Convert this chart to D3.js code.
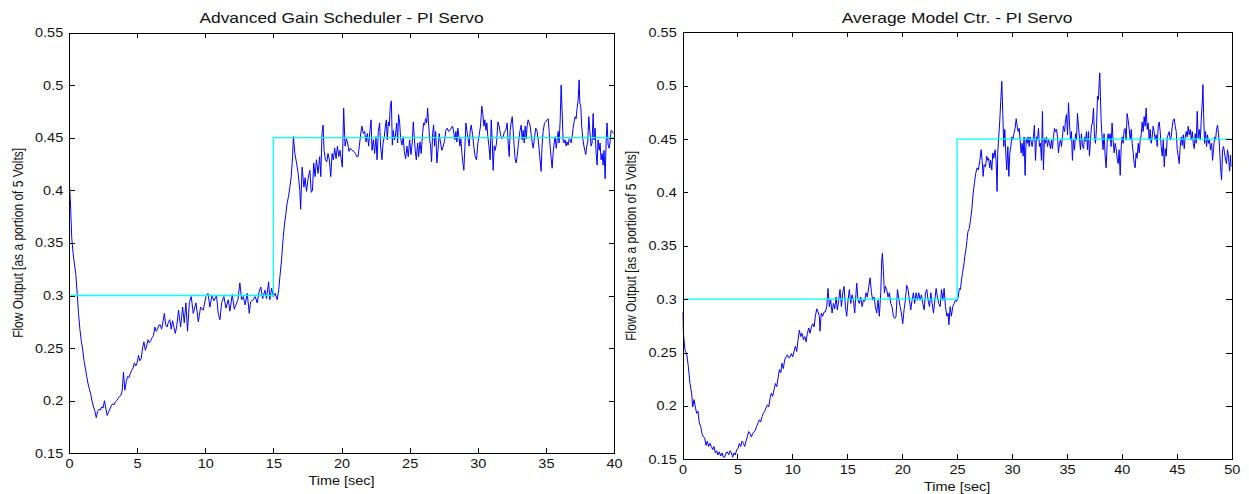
<!DOCTYPE html>
<html>
<head>
<meta charset="utf-8">
<script src="https://cdn.jsdelivr.net/npm/d3@7"></script>
<style>
    body { margin: 0; background: #fff; }
    svg text { font-family: "Liberation Sans", Arial, sans-serif; fill: #111; }
</style>
</head>
<body>
<svg id="chart" width="1249" height="494"></svg>
<script>
// reference (setpoint) steps
const schedRefTime = [0, 15, 15, 40];
const schedRef = [0.3, 0.3, 0.45, 0.45];
const avgRefTime = [0, 25, 25, 50];
const avgRef = [0.3, 0.3, 0.45, 0.45];

const schedFlow = [[0,0.412],[0.1,0.39],[0.2,0.355],[0.3,0.34],[0.4,0.33],[0.5,0.32],[0.6,0.302],[0.7,0.283],[0.8,0.268],[0.9,0.257],[1,0.249],[1.1,0.238],[1.2,0.231],[1.3,0.223],[1.4,0.216],[1.5,0.211],[1.6,0.206],[1.7,0.199],[1.8,0.194],[1.9,0.19],[2,0.184],[2.1,0.19],[2.2,0.192],[2.3,0.191],[2.4,0.194],[2.5,0.193],[2.6,0.2],[2.7,0.193],[2.8,0.186],[2.9,0.189],[3,0.192],[3.1,0.195],[3.2,0.197],[3.3,0.196],[3.4,0.199],[3.5,0.2],[3.6,0.202],[3.7,0.204],[3.8,0.205],[3.9,0.209],[4,0.227],[4.1,0.21],[4.2,0.218],[4.3,0.223],[4.4,0.222],[4.5,0.226],[4.6,0.229],[4.7,0.231],[4.8,0.236],[4.9,0.233],[5,0.236],[5.1,0.243],[5.2,0.238],[5.3,0.24],[5.4,0.25],[5.5,0.256],[5.6,0.248],[5.7,0.252],[5.8,0.258],[5.9,0.255],[6,0.257],[6.1,0.26],[6.2,0.262],[6.3,0.27],[6.4,0.266],[6.5,0.268],[6.6,0.272],[6.7,0.272],[6.8,0.268],[6.9,0.275],[7,0.283],[7.1,0.272],[7.2,0.27],[7.3,0.275],[7.4,0.277],[7.5,0.268],[7.6,0.276],[7.7,0.27],[7.8,0.264],[7.9,0.27],
    [8.04,0.286],[8.19,0.27],[8.34,0.289],[8.46,0.274],[8.58,0.293],[8.7,0.266],[8.83,0.293],[8.97,0.299],[9.12,0.283],[9.32,0.293],[9.49,0.275],[9.66,0.289],[9.85,0.286],[10.05,0.299],[10.2,0.302],[10.34,0.289],[10.49,0.3],[10.64,0.295],[10.83,0.3],[10.95,0.283],[11.08,0.277],[11.2,0.293],[11.37,0.299],[11.52,0.288],[11.69,0.296],[11.81,0.285],[11.98,0.301],[12.13,0.287],[12.25,0.291],[12.4,0.296],[12.54,0.312],[12.67,0.296],[12.79,0.299],[12.93,0.291],[13.08,0.302],[13.23,0.283],[13.33,0.294],[13.52,0.296],[13.67,0.299],[13.81,0.293],[13.96,0.304],[14.08,0.308],[14.21,0.297],[14.38,0.305],[14.5,0.297],[14.65,0.313],[14.74,0.296],[14.87,0.307],[14.99,0.299],[15.13,0.302],[15.28,0.296],[15.4,0.306],[15.48,0.318],[15.6,0.334],[15.72,0.355],[15.82,0.368],[15.92,0.378],[16.01,0.388],[16.11,0.394],[16.21,0.403],[16.31,0.413],[16.41,0.432],[16.47,0.451],[16.58,0.435],[16.7,0.426],[16.82,0.416],[16.94,0.4],[17,0.382],[17.11,0.422],[17.24,0.403],[17.33,0.412],[17.43,0.399],[17.55,0.411],[17.68,0.419],[17.78,0.398],[17.87,0.4],[17.96,0.426],
    [18.06,0.413],[18.16,0.429],[18.28,0.416],[18.4,0.432],[18.48,0.413],[18.57,0.454],[18.65,0.462],[18.72,0.438],[18.82,0.429],[18.92,0.427],[19.01,0.435],[19.11,0.429],[19.21,0.413],[19.31,0.435],[19.4,0.429],[19.5,0.44],[19.6,0.43],[19.7,0.442],[19.8,0.432],[19.89,0.438],[19.99,0.429],[20.06,0.422],[20.16,0.478],[20.26,0.442],[20.36,0.449],[20.45,0.445],[20.55,0.437],[20.65,0.44],[20.77,0.438],[20.9,0.437],[21.02,0.435],[21.11,0.432],[21.21,0.432],[21.31,0.442],[21.41,0.454],[21.5,0.461],[21.6,0.454],[21.7,0.456],[21.8,0.446],[21.9,0.454],[21.99,0.442],[22.09,0.457],[22.17,0.467],[22.24,0.438],[22.34,0.448],[22.43,0.435],[22.53,0.451],[22.61,0.429],[22.7,0.456],[22.8,0.464],[22.87,0.442],[22.97,0.429],[23.05,0.445],[23.14,0.451],[23.22,0.461],[23.29,0.467],[23.36,0.448],[23.44,0.465],[23.51,0.461],[23.58,0.48],[23.66,0.485],[23.73,0.443],[23.8,0.457],[23.88,0.448],[23.95,0.451],[24.05,0.464],[24.12,0.445],[24.19,0.472],[24.27,0.464],[24.34,0.449],[24.44,0.443],[24.53,0.451],[24.61,0.437],[24.71,0.43],[24.8,0.442],[24.9,0.432],[25,0.448],[25.1,0.434],[25.19,0.445],[25.27,0.465],[25.34,0.451],[25.41,0.438],[25.49,0.429],[25.59,0.445],[25.66,0.432],[25.76,0.446],[25.85,0.435],[25.95,0.454],[26.03,0.464],[26.1,0.462],[26.17,0.468],[26.25,0.464],[26.32,0.478],[26.39,0.464],[26.47,0.448],[26.54,0.442],[26.61,0.427],[26.69,0.454],[26.76,0.462],[26.83,0.442],[26.91,0.456],[27,0.426],[27.08,0.438],[27.17,0.454],[27.27,0.445],[27.37,0.438],[27.47,0.442],[27.57,0.448],[27.66,0.457],[27.76,0.459],[27.86,0.456],[27.96,0.457],[28.05,0.459],[28.15,0.461],[28.25,0.454],[28.32,0.448],[28.4,0.456],[28.47,0.446],[28.54,0.459],[28.62,0.451],[28.69,0.442],[28.76,0.449],[28.84,0.435],[28.91,0.426],[28.98,0.419],[29.06,0.442],[29.13,0.464],[29.23,0.454],[29.3,0.448],[29.37,0.442],[29.45,0.457],[29.52,0.462],[29.62,0.453],[29.71,0.442],[29.81,0.432],[29.91,0.429],
    [30.01,0.445],[30.11,0.453],[30.2,0.461],[30.3,0.48],[30.38,0.472],[30.45,0.461],[30.52,0.467],[30.6,0.457],[30.67,0.464],[30.74,0.451],[30.82,0.442],[30.91,0.429],[30.99,0.467],[31.06,0.448],[31.13,0.419],[31.21,0.442],[31.28,0.438],[31.38,0.445],[31.48,0.465],[31.57,0.461],[31.67,0.453],[31.77,0.449],[31.87,0.451],[31.96,0.456],[32.06,0.457],[32.16,0.464],[32.23,0.445],[32.31,0.432],[32.38,0.457],[32.45,0.464],[32.53,0.47],[32.6,0.457],[32.67,0.442],[32.75,0.429],[32.82,0.426],[32.89,0.432],[32.99,0.445],[33.09,0.456],[33.19,0.462],[33.26,0.448],[33.33,0.457],[33.41,0.445],[33.48,0.461],[33.56,0.449],[33.63,0.462],[33.7,0.467],[33.78,0.464],[33.85,0.461],[33.92,0.453],[34,0.445],[34.07,0.44],[34.17,0.451],[34.26,0.459],[34.36,0.456],[34.46,0.445],[34.55,0.432],[34.65,0.418],[34.72,0.442],[34.8,0.456],[34.9,0.464],[34.99,0.465],[35.09,0.467],[35.17,0.468],[35.24,0.456],[35.31,0.442],[35.39,0.43],[35.46,0.421],[35.53,0.435],[35.61,0.445],[35.68,0.451],[35.76,0.44],[35.83,0.448],[35.9,0.456],[35.97,0.445],[36.05,0.467],[36.12,0.5],[36.19,0.476],[36.27,0.446],[36.34,0.445],[36.41,0.448],[36.49,0.442],[36.56,0.446],[36.63,0.443],[36.71,0.449],[36.78,0.448],[36.85,0.445],[36.93,0.451],[37,0.459],[37.07,0.465],[37.15,0.47],[37.22,0.468],[37.29,0.478],[37.37,0.486],[37.44,0.505],[37.49,0.483],[37.56,0.48],[37.63,0.461],[37.71,0.449],[37.78,0.443],[37.85,0.438],[37.93,0.434],[38,0.442],[38.07,0.446],[38.15,0.47],[38.22,0.457],[38.32,0.442],[38.39,0.445],[38.47,0.473],[38.54,0.448],[38.61,0.459],[38.69,0.435],[38.76,0.424],[38.83,0.448],[38.91,0.438],[38.98,0.445],[39.05,0.429],[39.13,0.435],[39.2,0.424],[39.27,0.438],[39.35,0.411],[39.42,0.445],[39.49,0.464],[39.57,0.443],[39.64,0.44],[39.71,0.446],[39.79,0.457],[39.88,0.456],[39.96,0.454]];

const avgFlow = [[0,0.288],[0.08,0.268],[0.23,0.252],[0.38,0.249],[0.53,0.237],[0.68,0.221],[0.83,0.212],[0.93,0.199],[1.05,0.206],[1.17,0.199],[1.29,0.193],[1.41,0.195],[1.53,0.184],[1.65,0.181],[1.78,0.174],[1.9,0.171],[2.02,0.17],[2.14,0.163],[2.26,0.167],[2.38,0.162],[2.5,0.165],[2.63,0.162],[2.75,0.159],[2.87,0.162],[2.99,0.156],[3.11,0.158],[3.23,0.154],[3.35,0.157],[3.48,0.153],[3.6,0.156],[3.72,0.152],[3.84,0.152],[3.96,0.156],[4.08,0.157],[4.2,0.154],[4.33,0.158],[4.45,0.156],[4.57,0.152],[4.69,0.156],[4.81,0.154],[4.93,0.159],[5.05,0.16],[5.18,0.165],[5.3,0.162],[5.42,0.167],[5.54,0.165],[5.66,0.162],[5.78,0.167],[5.9,0.171],[6.03,0.176],[6.15,0.174],[6.27,0.171],[6.39,0.174],[6.51,0.176],[6.63,0.177],[6.75,0.181],[6.88,0.184],[7,0.187],[7.12,0.185],[7.24,0.19],[7.36,0.193],[7.48,0.195],[7.6,0.198],[7.73,0.201],[7.85,0.199],[7.97,0.207],[8.09,0.212],[8.21,0.209],[8.33,0.215],[8.46,0.221],[8.58,0.218],[8.7,0.226],[8.82,0.234],[8.94,0.231],[9.06,0.24],[9.18,0.235],[9.3,0.243],[9.43,0.246],[9.55,0.248],[9.67,0.245],[9.79,0.246],[9.91,0.249],
    [10.03,0.246],[10.15,0.251],[10.28,0.256],[10.4,0.251],[10.52,0.262],[10.64,0.271],[10.76,0.265],[10.88,0.268],[11.01,0.262],[11.13,0.265],[11.25,0.26],[11.37,0.268],[11.49,0.273],[11.61,0.268],[11.73,0.274],[11.86,0.277],[11.98,0.274],[12.1,0.284],[12.22,0.291],[12.34,0.288],[12.46,0.284],[12.52,0.27],[12.64,0.287],[12.76,0.284],[12.89,0.288],[13.01,0.288],[13.13,0.293],[13.25,0.31],[13.37,0.293],[13.49,0.299],[13.62,0.287],[13.74,0.296],[13.86,0.291],[13.98,0.302],[14.1,0.29],[14.22,0.299],[14.34,0.309],[14.47,0.293],[14.59,0.306],[14.71,0.312],[14.83,0.293],[14.95,0.284],[15.07,0.299],[15.19,0.309],[15.32,0.296],[15.44,0.304],[15.56,0.299],[15.68,0.287],[15.8,0.306],[15.86,0.315],[15.98,0.299],[16.1,0.296],[16.23,0.302],[16.35,0.293],[16.47,0.299],[16.59,0.298],[16.71,0.306],[16.83,0.302],[16.96,0.312],[17.08,0.32],[17.2,0.306],[17.32,0.299],[17.44,0.302],[17.56,0.293],[17.68,0.287],[17.8,0.299],[17.92,0.284],[18.05,0.306],[18.14,0.337],[18.2,0.343],[18.29,0.327],[18.38,0.306],[18.47,0.312],[18.59,0.309],[18.71,0.302],[18.83,0.306],[18.96,0.296],[19.08,0.293],[19.2,0.284],[19.32,0.282],[19.44,0.284],[19.57,0.309],[19.69,0.301],[19.81,0.293],[19.93,0.287],
    [20.05,0.277],[20.17,0.29],[20.29,0.299],[20.41,0.313],[20.54,0.309],[20.66,0.299],[20.78,0.29],[20.9,0.299],[21.02,0.306],[21.14,0.296],[21.27,0.306],[21.39,0.299],[21.51,0.306],[21.63,0.299],[21.75,0.304],[21.88,0.296],[22,0.29],[22.12,0.306],[22.24,0.309],[22.36,0.299],[22.49,0.293],[22.61,0.306],[22.73,0.296],[22.85,0.287],[22.97,0.299],[23.09,0.31],[23.21,0.302],[23.33,0.296],[23.46,0.293],[23.58,0.309],[23.7,0.299],[23.82,0.31],[23.94,0.293],[24.07,0.284],[24.19,0.287],[24.25,0.276],[24.37,0.293],[24.48,0.284],[24.6,0.293],[24.73,0.296],[24.85,0.299],[24.97,0.298],[25.1,0.302],[25.2,0.31],[25.3,0.309],[25.4,0.318],[25.5,0.325],[25.6,0.331],[25.7,0.34],[25.8,0.346],[25.9,0.355],
    [25.98,0.363],[26.1,0.366],[26.22,0.374],[26.34,0.384],[26.46,0.399],[26.58,0.409],[26.7,0.418],[26.82,0.423],[26.94,0.421],[27.07,0.43],[27.19,0.44],[27.28,0.43],[27.37,0.415],[27.46,0.426],[27.58,0.424],[27.7,0.434],[27.79,0.43],[27.88,0.432],[27.97,0.423],[28.06,0.43],[28.16,0.421],[28.25,0.437],[28.34,0.432],[28.46,0.44],[28.55,0.43],[28.64,0.401],[28.7,0.437],[28.79,0.452],[28.88,0.466],[28.97,0.485],[29.07,0.504],[29.16,0.474],[29.25,0.443],[29.34,0.459],[29.43,0.437],[29.52,0.421],[29.62,0.443],[29.71,0.415],[29.8,0.437],[29.89,0.443],[29.98,0.452],
    [30.07,0.449],[30.17,0.455],[30.28,0.46],[30.38,0.469],[30.47,0.462],[30.56,0.457],[30.65,0.46],[30.74,0.449],[30.83,0.437],[30.92,0.446],[31.01,0.434],[31.1,0.452],[31.19,0.416],[31.29,0.451],[31.38,0.446],[31.47,0.452],[31.56,0.443],[31.65,0.452],[31.74,0.448],[31.83,0.443],[31.92,0.449],[32.04,0.463],[32.14,0.43],[32.23,0.452],[32.32,0.449],[32.41,0.46],[32.5,0.443],[32.59,0.446],[32.68,0.43],[32.77,0.476],[32.86,0.421],[32.95,0.451],[33.04,0.446],[33.14,0.452],[33.23,0.443],[33.32,0.449],[33.41,0.446],[33.5,0.441],[33.59,0.449],[33.68,0.441],[33.77,0.452],[33.87,0.46],[33.96,0.457],[34.05,0.459],[34.14,0.452],[34.23,0.437],[34.32,0.446],[34.41,0.449],[34.5,0.443],[34.59,0.452],[34.68,0.462],[34.78,0.457],[34.87,0.468],[34.96,0.473],[35.05,0.454],[35.14,0.484],[35.23,0.465],[35.32,0.449],[35.41,0.457],[35.5,0.43],[35.59,0.449],[35.69,0.44],[35.78,0.455],[35.87,0.449],[35.96,0.474],[36.05,0.462],[36.14,0.451],[36.23,0.44],[36.32,0.455],[36.41,0.444],[36.51,0.441],[36.6,0.452],[36.69,0.448],[36.78,0.457],[36.87,0.44],[36.96,0.457],[37.05,0.434],[37.14,0.449],[37.23,0.462],[37.32,0.465],[37.42,0.479],[37.51,0.452],[37.6,0.446],[37.69,0.46],[37.78,0.49],[37.87,0.487],[37.93,0.502],[37.99,0.512],[38.05,0.49],[38.11,0.468],[38.2,0.452],[38.29,0.44],[38.38,0.455],[38.48,0.434],[38.57,0.423],[38.66,0.446],[38.75,0.455],[38.84,0.449],[38.93,0.455],[39.02,0.443],[39.11,0.465],[39.2,0.449],[39.3,0.437],[39.39,0.446],[39.48,0.441],[39.57,0.432],[39.66,0.427],[39.75,0.44],[39.85,0.416],[39.94,0.443],
    [40.03,0.452],[40.12,0.446],[40.21,0.459],[40.3,0.46],[40.39,0.449],[40.48,0.474],[40.57,0.468],[40.67,0.459],[40.76,0.449],[40.85,0.459],[40.94,0.446],[41.03,0.437],[41.12,0.427],[41.21,0.423],[41.3,0.437],[41.39,0.432],[41.49,0.446],[41.58,0.437],[41.67,0.449],[41.76,0.454],[41.85,0.466],[41.94,0.457],[42.03,0.471],[42.12,0.462],[42.21,0.479],[42.31,0.459],[42.4,0.465],[42.49,0.449],[42.58,0.459],[42.67,0.446],[42.76,0.452],[42.85,0.462],[42.94,0.457],[43.04,0.449],[43.13,0.454],[43.22,0.443],[43.31,0.462],[43.4,0.466],[43.49,0.457],[43.58,0.443],[43.68,0.434],[43.77,0.449],[43.86,0.424],[43.95,0.441],[44.04,0.434],[44.13,0.452],[44.22,0.454],[44.31,0.457],[44.4,0.449],[44.5,0.452],[44.59,0.462],[44.68,0.468],[44.77,0.469],[44.86,0.462],[44.95,0.457],[45.04,0.44],[45.13,0.434],[45.22,0.427],[45.31,0.443],[45.41,0.452],[45.5,0.444],[45.59,0.454],[45.68,0.441],[45.77,0.452],[45.86,0.457],[45.95,0.452],[46.04,0.462],[46.13,0.454],[46.23,0.459],[46.32,0.449],[46.41,0.457],[46.5,0.446],[46.59,0.441],[46.68,0.455],[46.77,0.446],[46.86,0.476],[46.95,0.451],[47.04,0.459],[47.14,0.449],[47.23,0.469],[47.32,0.484],[47.38,0.501],[47.44,0.474],[47.53,0.446],[47.62,0.457],[47.71,0.443],[47.8,0.454],[47.89,0.446],[47.98,0.449],[48.07,0.44],[48.17,0.446],[48.26,0.43],[48.35,0.441],[48.44,0.452],[48.53,0.449],[48.62,0.459],[48.71,0.463],[48.8,0.455],[48.89,0.443],[48.98,0.424],[49.08,0.412],[49.17,0.44],[49.26,0.443],[49.35,0.437],[49.44,0.43],[49.53,0.427],[49.62,0.44],[49.71,0.434],[49.81,0.42],[49.9,0.435],[49.96,0.424]];

const flowTicks = [0.15, 0.2, 0.25, 0.3, 0.35, 0.4, 0.45, 0.5, 0.55];
const schedTimeTicks = [0, 5, 10, 15, 20, 25, 30, 35, 40];
const avgTimeTicks = [0, 5, 10, 15, 20, 25, 30, 35, 40, 45, 50];

const svg = d3.select("#chart");
const stretch = 1.16;   // the source figure text is a bit wide

function drawPanel(p) {
    const x = d3.scaleLinear().domain([0, p.tmax]).range([p.left, p.right]);
    const y = d3.scaleLinear().domain([0.15, 0.55]).range([p.bottom, p.top]);
    const g = svg.append("g");

    g.append("clipPath").attr("id", p.id + "-clip")
        .append("rect")
        .attr("x", p.left).attr("y", p.top)
        .attr("width", p.right - p.left).attr("height", p.bottom - p.top);

    const plot = g.append("g").attr("clip-path", `url(#${p.id}-clip)`);
    const line = d3.line().x(d => x(d[0])).y(d => y(d[1]));

    plot.append("path")
        .datum(p.flow)
        .attr("d", line)
        .attr("fill", "none")
        .attr("stroke", "#0000ff")
        .attr("stroke-width", 1);

    plot.append("path")
        .datum(d3.zip(p.refTime, p.ref))
        .attr("d", line)
        .attr("fill", "none")
        .attr("stroke", "#00ffff")
        .attr("stroke-width", 1.3);

    const axes = [
        [d3.axisBottom(x).tickValues(p.timeTicks).tickFormat(d => String(d)).tickSize(-5).tickPadding(6), `translate(0,${p.bottom})`, true],
        [d3.axisTop(x).tickValues(p.timeTicks).tickFormat("").tickSize(-5), `translate(0,${p.top})`, false],
        [d3.axisLeft(y).tickValues(flowTicks).tickFormat(d => String(d)).tickSize(-5.5).tickPadding(5), `translate(${p.left},0)`, true],
        [d3.axisRight(y).tickValues(flowTicks).tickFormat("").tickSize(-5.5), `translate(${p.right},0)`, false],
    ];
    axes.forEach(([ax, tr, labelled]) => {
        const a = g.append("g").attr("transform", tr).call(ax.tickSizeOuter(0));
        a.selectAll("path, line").attr("stroke", "#000").attr("shape-rendering", "crispEdges");
        a.selectAll("text")
            .attr("fill", "#111")
            .style("font-size", "12.5px")
            .style("font-family", '"Liberation Sans", Arial, sans-serif')
            .attr("transform", labelled ? `scale(${stretch},1)` : null);
    });

    const cx = (p.left + p.right) / 2;
    g.append("text")
        .attr("transform", `translate(${cx},${p.titleY}) scale(${stretch},1)`)
        .attr("text-anchor", "middle")
        .style("font-size", "15px")
        .text(p.title);

    g.append("text")
        .attr("transform", `translate(${cx},${p.xlabelY}) scale(${stretch},1)`)
        .attr("text-anchor", "middle")
        .style("font-size", "12.5px")
        .text("Time [sec]");

    g.append("text")
        .attr("transform", `translate(${p.ylabelX},${(p.top + p.bottom) / 2}) scale(${stretch},1) rotate(-90)`)
        .attr("text-anchor", "middle")
        .style("font-size", "12px")
        .text("Flow Output [as a portion of 5 Volts]");
}

drawPanel({
    id: "sched", title: "Advanced Gain Scheduler - PI Servo",
    flow: schedFlow, refTime: schedRefTime, ref: schedRef,
    timeTicks: schedTimeTicks, tmax: 40,
    left: 69, right: 614, top: 32.5, bottom: 453.3,
    titleY: 22.5, xlabelY: 485, ylabelX: 23
});

drawPanel({
    id: "avg", title: "Average Model Ctr. - PI Servo",
    flow: avgFlow, refTime: avgRefTime, ref: avgRef,
    timeTicks: avgTimeTicks, tmax: 50,
    left: 682.5, right: 1231.7, top: 32.3, bottom: 459.3,
    titleY: 22.5, xlabelY: 491, ylabelX: 636
});
</script>
</body>
</html>
